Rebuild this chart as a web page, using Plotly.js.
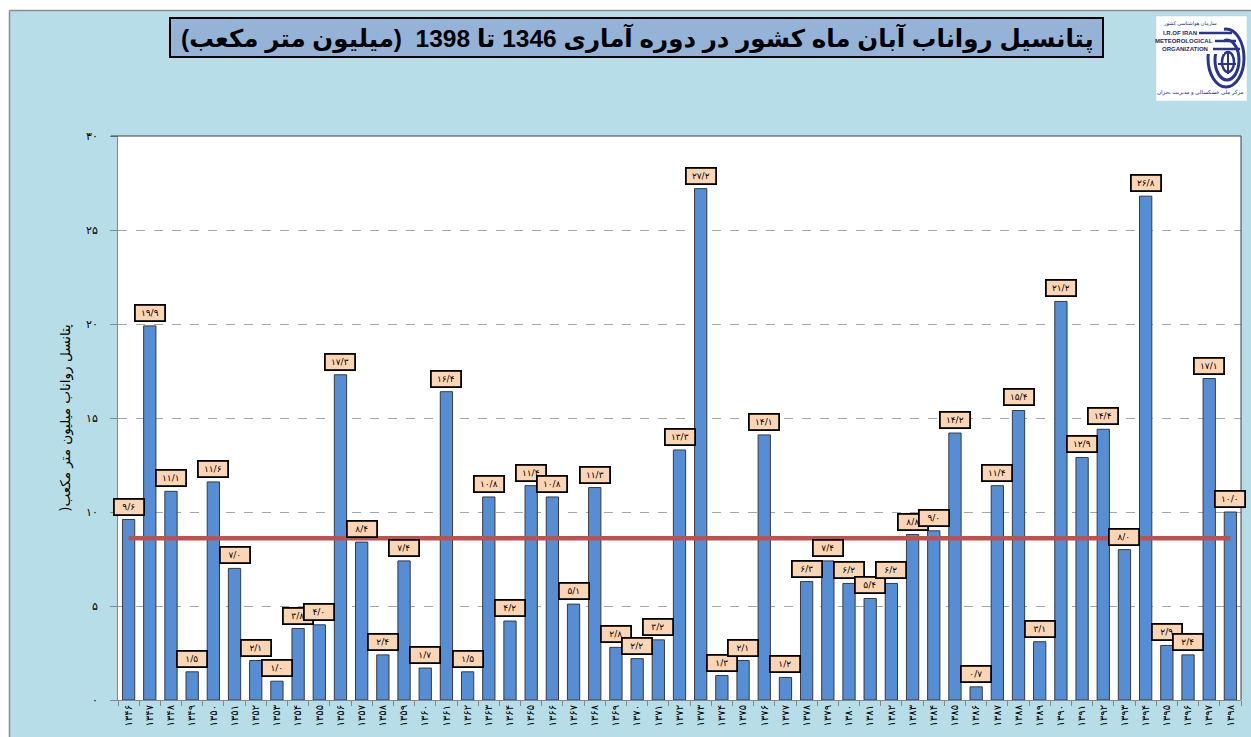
<!DOCTYPE html>
<html><head><meta charset="utf-8">
<script src="https://cdn.plot.ly/plotly-3.0.1.min.js"></script>
<style>html,body{margin:0;padding:0;background:#fff}#chart{width:1251px;height:737px}</style>
</head><body><div id="chart"></div><script>
const years = ['1346','1347','1348','1349','1350','1351','1352','1353','1354','1355','1356','1357','1358','1359','1360','1361','1362','1363','1364','1365','1366','1367','1368','1369','1370','1371','1372','1373','1374','1375','1376','1377','1378','1379','1380','1381','1382','1383','1384','1385','1386','1387','1388','1389','1390','1391','1392','1393','1394','1395','1396','1397','1398'];
const runoff = [9.6,19.9,11.1,1.5,11.6,7.0,2.1,1.0,3.8,4.0,17.3,8.4,2.4,7.4,1.7,16.4,1.5,10.8,4.2,11.4,10.8,5.1,11.3,2.8,2.2,3.2,13.3,27.2,1.3,2.1,14.1,1.2,6.3,7.4,6.2,5.4,6.2,8.8,9.0,14.2,0.7,11.4,15.4,3.1,21.2,12.9,14.4,8.0,26.8,2.9,2.4,17.1,10.0];
const meanRunoff = 8.6;
const yTickValues = [0,5,10,15,20,25,30];
const yTickLabels = ['۰','۵','۱۰','۱۵','۲۰','۲۵','۳۰'];
const titleText = 'پتانسیل رواناب آبان ماه کشور در دوره آماری 1346 تا 1398  (میلیون متر مکعب)';
const yTitleText = ')پتانسل رواناب میلیون متر مکعب';

const faDigits = '۰۱۲۳۴۵۶۷۸۹';
const toFa = s => String(s).replace(/[0-9]/g, d => faDigits[+d]);
const xTickLabels = years.map(toFa);
const valueLabels = runoff.map(v => toFa(v.toFixed(1)).replace('.', '/'));

const W = 1251, H = 737, L = 118, R = 10, T = 136, B = 37;
const PW = W - L - R, PH = H - T - B;
const px = x => (x - L) / PW;
const py = y => (H - B - y) / PH;

const bars = {
  type: 'bar', x: years, y: runoff,
  marker: {color: '#558ed5', line: {color: '#3a3a3a', width: 1}},
  hoverinfo: 'x+y'
};
const meanLine = {
  type: 'scatter', mode: 'lines', x: years, y: years.map(() => meanRunoff),
  line: {color: '#c0504d', width: 4.5}, hoverinfo: 'skip'
};

const annotations = years.map((yr, i) => ({
  x: i, y: runoff[i], xref: 'x', yref: 'y', text: valueLabels[i],
  yanchor: 'bottom', yshift: 4, showarrow: false,
  bgcolor: '#fcd5b4', bordercolor: '#000', borderwidth: 1.8, borderpad: 2,
  width: 24, font: {family: 'DejaVu Sans', size: 9, color: '#000'}
}));
annotations.push({
  xref: 'paper', yref: 'paper', x: px(637), y: py(38), xanchor: 'center', yanchor: 'middle',
  text: '<b>' + titleText + '</b>', showarrow: false,
  font: {family: 'Liberation Sans, DejaVu Sans', size: 24.5, color: '#000'}
});
const logoTexts = [
  ['سازمان هواشناسی کشور', 1190, 24, 5, false],
  ['I.R.OF IRAN', 1180, 33, 6, true],
  ['METEOROLOGICAL', 1184, 41, 6, true],
  ['ORGANIZATION', 1185, 49, 6, true],
  ['مرکز ملی خشکسالی و مدیریت بحران', 1200, 93, 5.5, false]
];
logoTexts.forEach(([t, x, y, s, b]) => annotations.push({
  xref: 'paper', yref: 'paper', x: px(x), y: py(y), xanchor: 'center', yanchor: 'middle',
  text: b ? '<b>' + t + '</b>' : t, showarrow: false,
  font: {family: 'Liberation Sans, DejaVu Sans', size: s, color: '#1f2a6e'}
}));

const rect = (x0, y0, x1, y1, fill, line, lw, layer) => ({
  type: 'rect', xref: 'paper', yref: 'paper', x0: px(x0), x1: px(x1), y0: py(y0), y1: py(y1),
  fillcolor: fill, line: {color: line, width: lw}, layer: layer || 'above'
});
const lineSh = (x0, y0, x1, y1, c, w) => ({
  type: 'line', xref: 'paper', yref: 'paper', x0: px(x0), x1: px(x1), y0: py(y0), y1: py(y1),
  line: {color: c, width: w}
});
const ell = (cx, cy, rx, ry, c, w) => ({
  type: 'circle', xref: 'paper', yref: 'paper', x0: px(cx - rx), x1: px(cx + rx), y0: py(cy + ry), y1: py(cy - ry),
  line: {color: c, width: w}, fillcolor: 'rgba(0,0,0,0)'
});

const shapes = [
  rect(0, 0, W, 10.5, '#ffffff', 'rgba(0,0,0,0)', 0, 'below'),
  rect(0, 0, 9.5, H, '#ffffff', 'rgba(0,0,0,0)', 0, 'below'),
  lineSh(9.5, 10.5, W, 10.5, '#8c8c8c', 1.5),
  lineSh(9.5, 10.5, 9.5, H, '#8c8c8c', 1.5),
  lineSh(111, 136, 1241, 136, '#404040', 1),
  lineSh(1241, 136, 1241, 700, '#404040', 1),
  rect(170, 18, 1103, 57, '#95b3d7', '#000', 2),
  rect(1156, 16, 1247, 101, '#ffffff', '#d0d0d0', 0.5),
  ell(1226, 58, 18, 29, '#2b3590', 3),
  ell(1227, 60, 12, 20, '#2b3590', 3),
  ell(1228, 62, 6, 10, '#2b3590', 2.5),
  rect(1158, 18, 1224, 54, '#ffffff', 'rgba(0,0,0,0)', 0),
  lineSh(1228, 52, 1228, 74, '#2b3590', 2),
  lineSh(1218, 64, 1236, 64, '#2b3590', 2),
  lineSh(1199, 33, 1232, 33, '#2b3590', 2.5),
  lineSh(1215, 41, 1236, 41, '#2b3590', 2.5),
  lineSh(1213, 49, 1240, 49, '#2b3590', 2.5)
];

const layout = {
  width: W, height: H,
  margin: {l: L, r: R, t: T, b: B},
  paper_bgcolor: '#b7dde8', plot_bgcolor: '#ffffff',
  showlegend: false, bargap: 0.42,
  font: {family: 'Liberation Sans, DejaVu Sans', color: '#000'},
  xaxis: {
    type: 'category', tickvals: years, ticktext: xTickLabels, tickangle: -90,
    tickfont: {family: 'DejaVu Sans', size: 10, color: '#000'},
    showline: true, linecolor: '#868686', linewidth: 1,
    ticks: 'outside', ticklen: 5, tickcolor: '#868686', tickson: 'boundaries',
    showgrid: false, range: [-0.5, years.length - 0.5], fixedrange: true
  },
  yaxis: {
    range: [0, 30], tickvals: yTickValues, ticktext: yTickLabels,
    tickfont: {family: 'DejaVu Sans', size: 11, color: '#000'},
    ticks: 'outside', ticklen: 7, tickcolor: '#868686', ticklabelstandoff: 10,
    showline: true, linecolor: '#868686', linewidth: 1,
    showgrid: true, gridcolor: '#a6a6a6', griddash: 'dash', gridwidth: 1,
    zeroline: false,
    title: {text: yTitleText, standoff: 12, font: {family: 'DejaVu Sans', size: 13.5, color: '#000'}},
    fixedrange: true
  },
  annotations: annotations,
  shapes: shapes
};

Plotly.newPlot('chart', [bars, meanLine], layout, {displayModeBar: false, staticPlot: true});
</script></body></html>
